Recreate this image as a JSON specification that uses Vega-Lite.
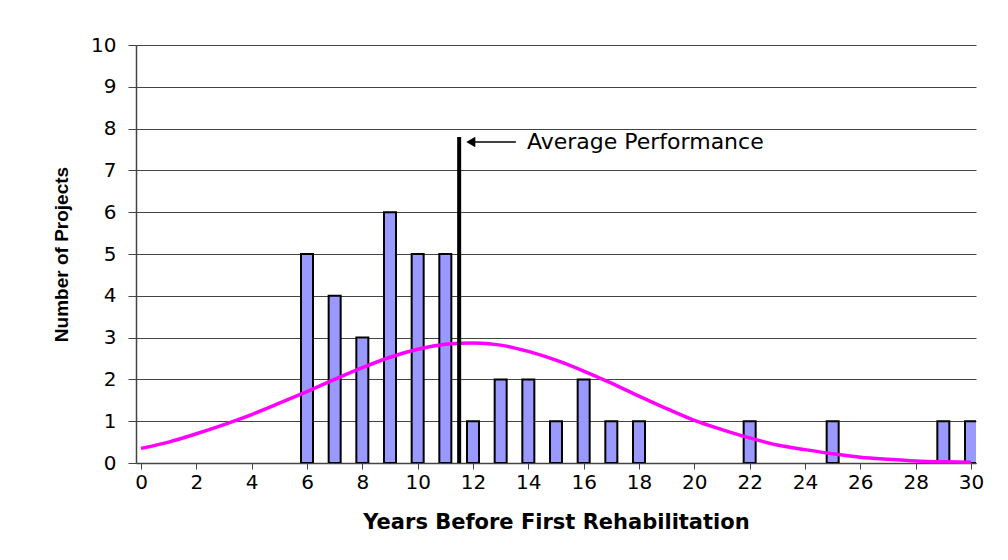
{
  "$schema": "https://vega.github.io/schema/vega-lite/v6.json",
  "width": 840,
  "height": 418,
  "autosize": {"type": "none"},
  "padding": {"left": 136, "top": 45, "right": 32, "bottom": 97},
  "background": "white",
  "config": {
    "view": {"stroke": null},
    "font": "DejaVu Sans"
  },
  "datasets": {
    "bars": [
      {"year": 6, "projects": 5}, {"year": 7, "projects": 4}, {"year": 8, "projects": 3},
      {"year": 9, "projects": 6}, {"year": 10, "projects": 5}, {"year": 11, "projects": 5},
      {"year": 12, "projects": 1}, {"year": 13, "projects": 2}, {"year": 14, "projects": 2},
      {"year": 15, "projects": 1}, {"year": 16, "projects": 2}, {"year": 17, "projects": 1},
      {"year": 18, "projects": 1}, {"year": 22, "projects": 1}, {"year": 25, "projects": 1},
      {"year": 29, "projects": 1}, {"year": 30, "projects": 1}
    ],
    "curve": [
      {"year": 0, "value": 0.35}, {"year": 1, "value": 0.5}, {"year": 2, "value": 0.7},
      {"year": 3, "value": 0.92}, {"year": 4, "value": 1.16}, {"year": 5, "value": 1.43},
      {"year": 6, "value": 1.71}, {"year": 7, "value": 2.0}, {"year": 8, "value": 2.28},
      {"year": 9, "value": 2.53}, {"year": 10, "value": 2.72}, {"year": 11, "value": 2.84},
      {"year": 12, "value": 2.87}, {"year": 13, "value": 2.82}, {"year": 14, "value": 2.67},
      {"year": 15, "value": 2.46}, {"year": 16, "value": 2.2}, {"year": 17, "value": 1.91},
      {"year": 18, "value": 1.6}, {"year": 19, "value": 1.3}, {"year": 20, "value": 1.02},
      {"year": 21, "value": 0.8}, {"year": 22, "value": 0.6}, {"year": 23, "value": 0.43},
      {"year": 24, "value": 0.32}, {"year": 25, "value": 0.22}, {"year": 26, "value": 0.14},
      {"year": 27, "value": 0.09}, {"year": 28, "value": 0.05}, {"year": 29, "value": 0.03},
      {"year": 30, "value": 0.02}
    ],
    "avg": [{"year": 11.5, "low": 0, "high": 7.8}],
    "arrow": [{"from": 11.85, "to": 13.55, "y": 7.68, "label": "Average Performance", "labelX": 13.95, "tipX": 11.92}]
  },
  "layer": [
    {
      "data": {"name": "bars"},
      "mark": {"type": "bar", "width": 12, "fill": "#9999ff", "stroke": "black", "strokeWidth": 2, "clip": true},
      "encoding": {
        "x": {
          "field": "year", "type": "quantitative",
          "scale": {"domain": [0, 30], "nice": false, "zero": false},
          "axis": {
            "values": [0,1,2,3,4,5,6,7,8,9,10,11,12,13,14,15,16,17,18,19,20,21,22,23,24,25,26,27,28,29,30],
            "labelExpr": "datum.value % 2 === 0 ? datum.label : ''",
            "grid": false,
            "domainColor": "#444444",
            "domainWidth": 1.5,
            "tickColor": "#444444",
            "tickSize": 6,
            "labelFont": "DejaVu Sans",
            "labelFontSize": 20,
            "labelColor": "black",
            "labelPadding": 3,
            "labelFlush": false,
            "labelOverlap": false,
            "title": "Years Before First Rehabilitation",
            "titleFont": "DejaVu Sans",
            "titleFontSize": 21,
            "titleFontWeight": "bold",
            "titleColor": "black",
            "titlePadding": 19
          }
        },
        "y": {
          "field": "projects", "type": "quantitative",
          "scale": {"domain": [0, 10], "nice": false},
          "axis": {
            "values": [0,1,2,3,4,5,6,7,8,9,10],
            "grid": true,
            "gridColor": "#444444",
            "gridWidth": 1,
            "domainColor": "#444444",
            "domainWidth": 1.5,
            "tickColor": "#444444",
            "tickSize": 8,
            "labelFont": "DejaVu Sans",
            "labelFontSize": 20,
            "labelColor": "black",
            "labelPadding": 12,
            "title": "Number of Projects",
            "titleFont": "Liberation Sans",
            "titleFontSize": 19,
            "titleFontWeight": "bold",
            "titleColor": "black",
            "titlePadding": 19
          }
        }
      }
    },
    {
      "data": {"name": "curve"},
      "mark": {"type": "line", "color": "#ff00ff", "strokeWidth": 3.5, "interpolate": "monotone"},
      "encoding": {
        "x": {"field": "year", "type": "quantitative"},
        "y": {"field": "value", "type": "quantitative"}
      }
    },
    {
      "data": {"name": "avg"},
      "mark": {"type": "rule", "color": "black", "strokeWidth": 4},
      "encoding": {
        "x": {"field": "year", "type": "quantitative"},
        "y": {"field": "low", "type": "quantitative"},
        "y2": {"field": "high"}
      }
    },
    {
      "data": {"name": "arrow"},
      "mark": {"type": "rule", "color": "black", "strokeWidth": 1.5},
      "encoding": {
        "x": {"field": "from", "type": "quantitative"},
        "x2": {"field": "to"},
        "y": {"field": "y", "type": "quantitative"}
      }
    },
    {
      "data": {"name": "arrow"},
      "mark": {"type": "point", "shape": "triangle-left", "filled": true, "color": "black", "size": 110, "opacity": 1},
      "encoding": {
        "x": {"field": "tipX", "type": "quantitative"},
        "y": {"field": "y", "type": "quantitative"}
      }
    },
    {
      "data": {"name": "arrow"},
      "mark": {"type": "text", "align": "left", "baseline": "middle", "fontSize": 22, "font": "DejaVu Sans", "color": "black"},
      "encoding": {
        "x": {"field": "labelX", "type": "quantitative"},
        "y": {"field": "y", "type": "quantitative"},
        "text": {"field": "label"}
      }
    }
  ]
}
